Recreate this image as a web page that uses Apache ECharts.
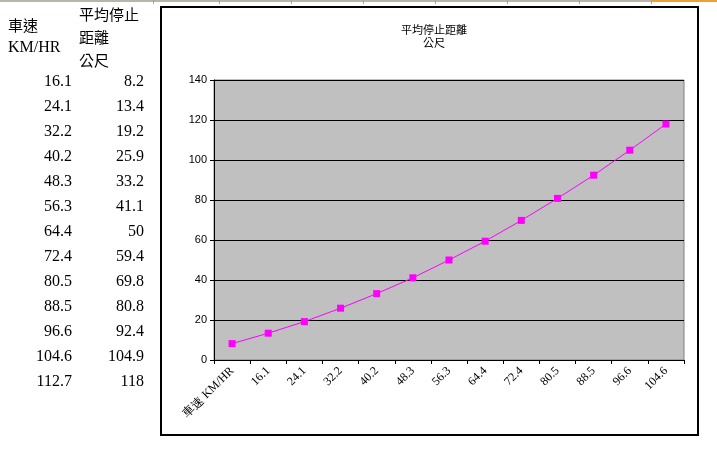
<!DOCTYPE html>
<html>
<head>
<meta charset="utf-8">
<script src="https://cdn.jsdelivr.net/npm/echarts@6/dist/echarts.min.js"></script>
<style>
html,body{margin:0;padding:0;background:#fff;}
#c{width:717px;height:453px;}
</style>
</head>
<body>
<div id="c"></div>
<script>
// ---- data ----
var speedHeader = ['車速', 'KM/HR'];
var distHeader = ['平均停止', '距離', '公尺'];
var speeds = ['16.1','24.1','32.2','40.2','48.3','56.3','64.4','72.4','80.5','88.5','96.6','104.6','112.7'];
var distances = [8.2, 13.4, 19.2, 25.9, 33.2, 41.1, 50, 59.4, 69.8, 80.8, 92.4, 104.9, 118];
var categories = ['車速 KM/HR','16.1','24.1','32.2','40.2','48.3','56.3','64.4','72.4','80.5','88.5','96.6','104.6'];
var chartTitle = '平均停止距離\n公尺';
var yTicks = [0, 20, 40, 60, 80, 100, 120, 140];

var chart = echarts.init(document.getElementById('c'));

var graphics = [];
// spreadsheet top strip
graphics.push({type:'rect', shape:{x:0,y:0,width:651,height:2}, style:{fill:'#b8b4a8'}, silent:true});
graphics.push({type:'rect', shape:{x:651,y:0,width:66,height:2}, style:{fill:'#f0a030'}, silent:true});
[153,219,291,363,435,507,579,651].forEach(function(x){
  graphics.push({type:'rect', shape:{x:x,y:0,width:1,height:4}, style:{fill:'#a8a498'}, silent:true});
});
// table headers
var cjk = '"Noto Sans CJK TC", "Noto Sans CJK SC", sans-serif';
var serif = '"Liberation Serif", "DejaVu Serif", serif';
graphics.push({type:'text', x:8, y:25, style:{text:speedHeader[0], font:'15px '+cjk, fill:'#000', verticalAlign:'middle'}});
graphics.push({type:'text', x:8, y:48, style:{text:speedHeader[1], font:'16px '+serif, fill:'#000', verticalAlign:'middle'}});
distHeader.forEach(function(t,i){
  graphics.push({type:'text', x:79, y:14 + i*23, style:{text:t, font:'15px '+cjk, fill:'#000', verticalAlign:'middle'}});
});
speeds.forEach(function(s,i){
  graphics.push({type:'text', x:72, y:82 + i*25, style:{text:s, font:'16px '+serif, fill:'#000', align:'right', verticalAlign:'middle'}});
  graphics.push({type:'text', x:144, y:82 + i*25, style:{text:String(distances[i]), font:'16px '+serif, fill:'#000', align:'right', verticalAlign:'middle'}});
});
// chart frame
graphics.push({type:'rect', shape:{x:161,y:7,width:537,height:428}, style:{fill:null, stroke:'#000', lineWidth:2}, silent:true, z:-1});

chart.setOption({
  animation:false,
  backgroundColor:'#fff',
  title:{
    text: chartTitle,
    left: 429,
    top: 18,
    textAlign:'center',
    textStyle:{fontSize:11, fontWeight:'normal', color:'#000', lineHeight:13, fontFamily:cjk}
  },
  graphic: graphics,
  grid:{
    left:214, right:33, top:80, bottom:93,
    show:true, backgroundColor:'#c0c0c0', borderColor:'#808080', borderWidth:1
  },
  xAxis:{
    type:'category',
    data: categories,
    boundaryGap:true,
    axisLine:{show:true, lineStyle:{color:'#000', width:1}},
    axisTick:{show:true, length:4, lineStyle:{color:'#000'}},
    axisLabel:{rotate:45, interval:0, fontSize:12, color:'#000', fontFamily:serif, margin:9}
  },
  yAxis:{
    type:'value',
    min: yTicks[0], max: yTicks[yTicks.length-1], interval: 20,
    axisLine:{show:true, lineStyle:{color:'#000', width:1}},
    axisTick:{show:true, length:4, lineStyle:{color:'#000'}},
    axisLabel:{fontSize:11, color:'#000', fontFamily:'"Liberation Sans", Arial, sans-serif', margin:7},
    splitLine:{show:true, lineStyle:{color:'#000', width:1}}
  },
  series:[{
    type:'line',
    data: distances,
    symbol:'rect',
    symbolSize:7,
    lineStyle:{color:'#ff00ff', width:1},
    itemStyle:{color:'#ff00ff'}
  }]
});
</script>
</body>
</html>
